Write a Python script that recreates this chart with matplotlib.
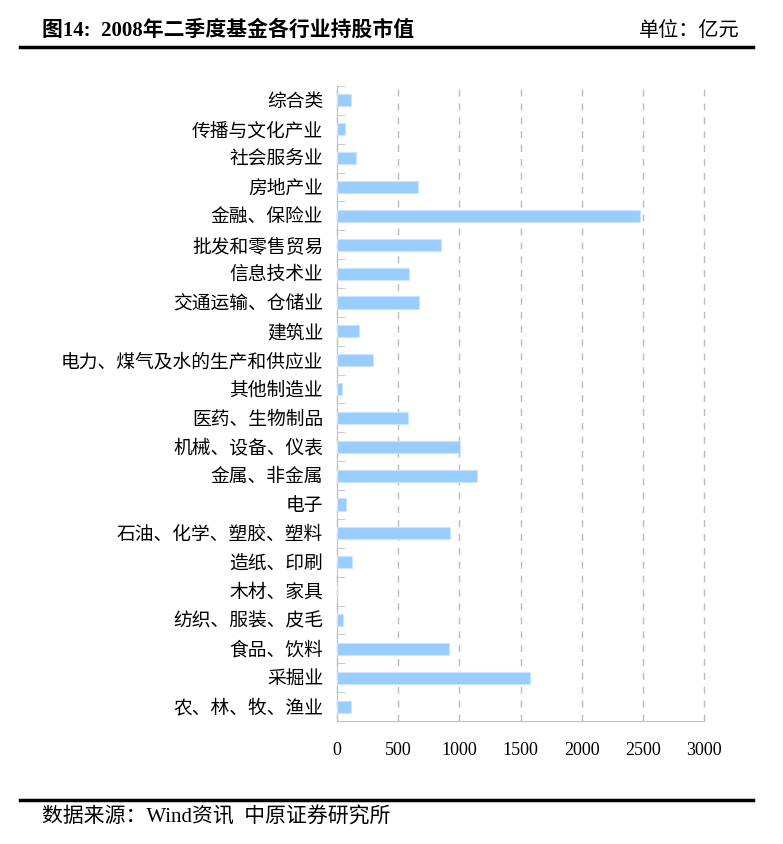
import matplotlib
matplotlib.use("Agg")
import matplotlib.pyplot as plt

plt.rcParams['font.family'] = ['Liberation Serif', 'Noto Sans CJK SC', 'DejaVu Sans']

# bottom to top
industries = ["农、林、牧、渔业", "采掘业", "食品、饮料", "纺织、服装、皮毛", "木材、家具",
              "造纸、印刷", "石油、化学、塑胶、塑料", "电子", "金属、非金属", "机械、设备、仪表",
              "医药、生物制品", "其他制造业", "电力、煤气及水的生产和供应业", "建筑业",
              "交通运输、仓储业", "信息技术业", "批发和零售贸易", "金融、保险业", "房地产业",
              "社会服务业", "传播与文化产业", "综合类"]
values = [118, 1580, 916, 49, 0, 126, 924, 77, 1145, 1003,
          577, 41, 298, 178, 667, 588, 848, 2473, 664, 156, 69, 118]
xticks = [0, 500, 1000, 1500, 2000, 2500, 3000]

fig = plt.figure(figsize=(7.83, 8.44), dpi=100)
W, H = 783, 844
ax = fig.add_axes([337 / W, 1 - 721 / H, (704 - 337) / W, (721 - 86) / H])

pos = list(range(len(industries)))
ax.barh(pos, values, height=0.42, color="#99CCFF", edgecolor="#CCE5FF", linewidth=0.8, zorder=3)
ax.set_xlim(0, 3000)
ax.set_ylim(-0.5, len(industries) - 0.5)
ax.set_xticks(xticks)
ax.set_xticklabels([str(v) for v in xticks], fontsize=13)
ax.set_yticks(pos)
ax.set_yticklabels(industries, fontsize=13.5)
ax.set_yticks([p - 0.5 for p in pos] + [len(industries) - 0.5], minor=True)
ax.tick_params(axis="y", which="major", length=0, pad=10)
ax.tick_params(axis="y", which="minor", direction="in", length=6, color="#c0c0c0")
ax.tick_params(axis="x", length=0, pad=15)
ax.grid(axis="x", color="#bbbbbb", linestyle=(0, (5, 5)), linewidth=1, zorder=0)
for gl in ax.xaxis.get_gridlines():
    gl.set_clip_on(False)
for s in ["top", "right"]:
    ax.spines[s].set_visible(False)
for s in ["left", "bottom"]:
    ax.spines[s].set_color("#c0c0c0")

fig.text(42 / W, 1 - 31 / H, "图14:  2008年二季度基金各行业持股市值", fontsize=15, fontweight="bold",
         ha="left", va="center")
fig.text(740 / W, 1 - 31 / H, "单位：亿元", fontsize=14.5, ha="right", va="center")
fig.add_artist(plt.Line2D([20 / W, 753 / W], [1 - 47 / H, 1 - 47 / H], color="black", linewidth=2.5))
fig.add_artist(plt.Line2D([20 / W, 753 / W], [1 - 800 / H, 1 - 800 / H], color="black", linewidth=2.5))
fig.text(42 / W, 1 - 818 / H, "数据来源：Wind资讯  中原证券研究所", fontsize=15, ha="left", va="center")

fig.savefig("out.png", dpi=100)
